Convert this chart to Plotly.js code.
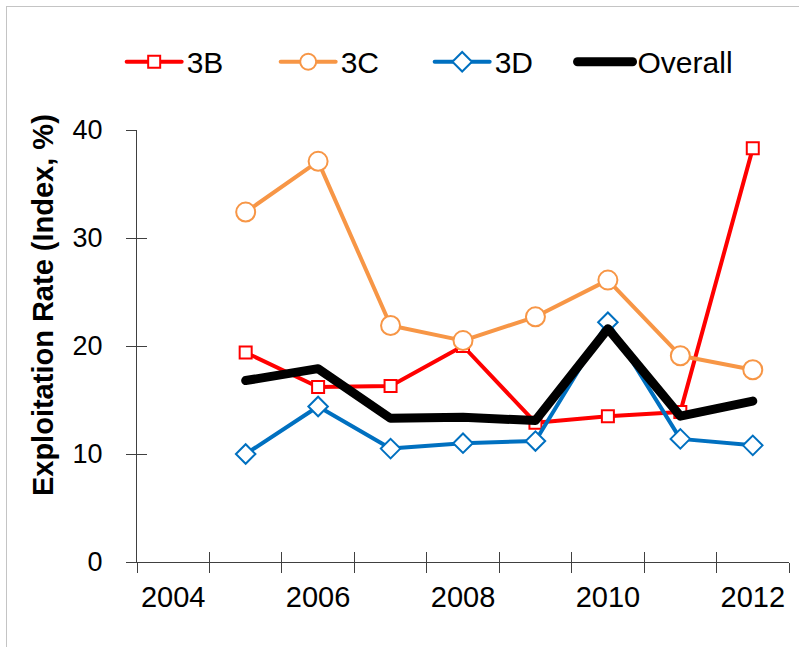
<!DOCTYPE html>
<html>
<head>
<meta charset="utf-8">
<script src="https://cdn.plot.ly/plotly-3.0.1.min.js"></script>
<style>
  html, body { margin: 0; padding: 0; background: #fff; }
  #wrap { position: relative; width: 799px; height: 647px; overflow: hidden; }
  #chart { position: absolute; left: 0; top: 0; width: 799px; height: 647px; }
  #frame { position: absolute; left: 6px; top: 6px; width: 820px; height: 680px;
           border: 1px solid #c4c4c4; pointer-events: none; box-sizing: border-box; }
  .js-line, .legendlines path { stroke-linecap: round !important; stroke-linejoin: round !important; }
</style>
</head>
<body>
<div id="wrap">
  <div id="chart"></div>
  <div id="frame"></div>
</div>
<script>
// ---- data ----
const years   = [2005, 2006, 2007, 2008, 2009, 2010, 2011, 2012];
const s3B     = [19.4, 16.2, 16.3, 20.0, 12.9, 13.5, 13.9, 38.3];
const s3C     = [32.4, 37.1, 21.9, 20.5, 22.7, 26.1, 19.1, 17.8];
const s3D     = [10.0, 14.4, 10.5, 11.0, 11.2, 22.2, 11.4, 10.8];
const overall = [16.8, 17.9, 13.3, 13.4, 13.1, 21.6, 13.5, 14.9];
const categoryYears = [2004, 2005, 2006, 2007, 2008, 2009, 2010, 2011, 2012];
const labelYears  = [2004, 2006, 2008, 2010, 2012];
const labelText   = ['2004', '2006', '2008', '2010', '2012'];
const yTicks      = [0, 10, 20, 30, 40];
const yTitle      = 'Exploitation Rate (Index, %)';

const boundaries = categoryYears.map(y => y - 0.5).concat([categoryYears[categoryYears.length - 1] + 0.5]);
const xRange = [boundaries[0], boundaries[boundaries.length - 1]];
const FONT = 'Liberation Sans, Arial, sans-serif';
const AX = '#404040';

const traces = [
  { x: years, y: s3B, name: '3B', type: 'scatter', mode: 'lines+markers',
    line: { color: '#FF0000', width: 4 },
    marker: { symbol: 'square', size: 12, color: '#FFFFFF', line: { color: '#FF0000', width: 2 } } },
  { x: years, y: s3C, name: '3C', type: 'scatter', mode: 'lines+markers',
    line: { color: '#F79646', width: 4 },
    marker: { symbol: 'circle', size: 19, color: '#FFFFFF', line: { color: '#F79646', width: 2 } } },
  { x: years, y: s3D, name: '3D', type: 'scatter', mode: 'lines+markers',
    line: { color: '#0070C0', width: 4 },
    marker: { symbol: 'diamond', size: 15, color: '#FFFFFF', line: { color: '#0070C0', width: 2 } } },
  { x: years, y: overall, name: 'Overall', type: 'scatter', mode: 'lines',
    line: { color: '#000000', width: 9 }, legend: 'legend2' },
  // empty helper traces so the overlay axes (crossing tick marks) get drawn
  { x: [], y: [], xaxis: 'x2', yaxis: 'y', type: 'scatter', mode: 'lines', showlegend: false, hoverinfo: 'skip' },
  { x: [], y: [], xaxis: 'x3', yaxis: 'y', type: 'scatter', mode: 'lines', showlegend: false, hoverinfo: 'skip' },
  { x: [], y: [], xaxis: 'x', yaxis: 'y2', type: 'scatter', mode: 'lines', showlegend: false, hoverinfo: 'skip' }
];

const commonX = { range: xRange, showgrid: false, zeroline: false, fixedrange: true };
const legendFont = { family: FONT, size: 30, color: '#000' };
const layout = {
  width: 799, height: 647,
  margin: { l: 137, r: 10, t: 130, b: 85 },
  paper_bgcolor: '#FFFFFF', plot_bgcolor: 'rgba(0,0,0,0)',
  font: { family: FONT, color: '#000000' },
  showlegend: true,
  xaxis: Object.assign({}, commonX, {
    tickmode: 'array', tickvals: labelYears, ticktext: labelText, ticks: '',
    showline: true, linecolor: AX, linewidth: 1,
    tickfont: { family: FONT, size: 29, color: '#000' }, ticklabelstandoff: 9
  }),
  xaxis2: Object.assign({}, commonX, {
    overlaying: 'x', anchor: 'y', side: 'bottom',
    tickmode: 'array', tickvals: boundaries, ticks: 'outside', ticklen: 10, tickcolor: AX, tickwidth: 1,
    showticklabels: false, showline: false
  }),
  xaxis3: Object.assign({}, commonX, {
    overlaying: 'x', anchor: 'y', side: 'bottom',
    tickmode: 'array', tickvals: boundaries, ticks: 'inside', ticklen: 10, tickcolor: AX, tickwidth: 1,
    showticklabels: false, showline: false
  }),
  yaxis: {
    range: [0, 40], tickmode: 'array', tickvals: yTicks, ticks: 'outside', ticklen: 10,
    tickcolor: AX, tickwidth: 1, showline: true, linecolor: AX, linewidth: 1,
    showgrid: false, zeroline: false, fixedrange: true,
    tickfont: { family: FONT, size: 27, color: '#000' }, ticklabelstandoff: 18
  },
  yaxis2: {
    overlaying: 'y', anchor: 'x', side: 'left', range: [0, 40],
    tickmode: 'array', tickvals: yTicks, ticks: 'inside', ticklen: 10, tickcolor: AX, tickwidth: 1,
    showticklabels: false, showline: false, showgrid: false, zeroline: false, fixedrange: true
  },
  annotations: [{
    text: yTitle, textangle: -90, showarrow: false,
    xref: 'paper', yref: 'paper', x: -0.144, y: 0.595, xanchor: 'center', yanchor: 'middle',
    font: { family: FONT, size: 29, weight: 'bold', color: '#000' }
  }],
  legend: {
    orientation: 'h', x: -0.0235, y: 1.158, xanchor: 'left', yanchor: 'middle',
    font: legendFont, itemwidth: 55,
    entrywidth: 84, entrywidthmode: 'pixels', bgcolor: 'rgba(0,0,0,0)'
  },
  legend2: {
    orientation: 'h', x: 0.668, y: 1.158, xanchor: 'left', yanchor: 'middle',
    font: legendFont, itemwidth: 55, bgcolor: 'rgba(0,0,0,0)'
  }
};

Plotly.newPlot('chart', traces, layout, { displayModeBar: false, staticPlot: true });
</script>
</body>
</html>
